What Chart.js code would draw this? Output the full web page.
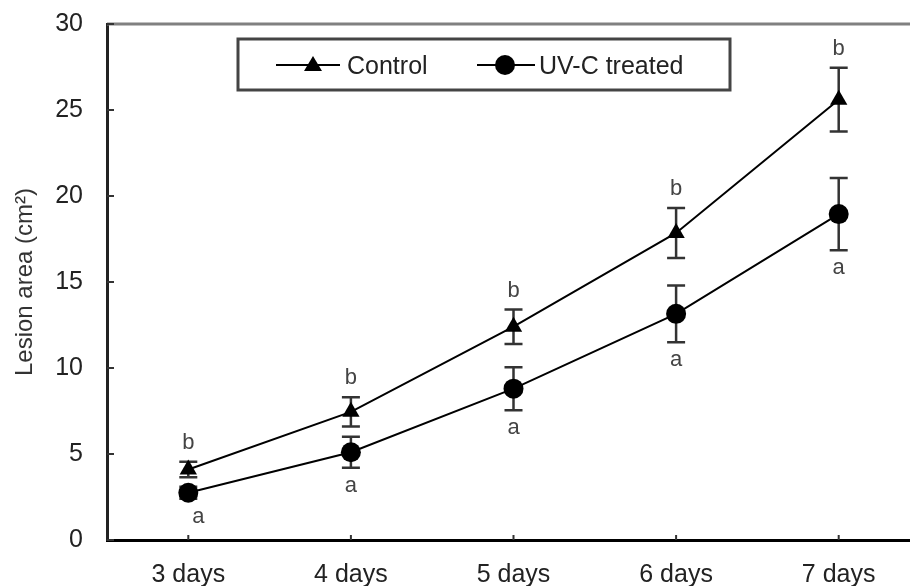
<!DOCTYPE html>
<html>
<head>
<meta charset="utf-8">
<script src="https://cdn.jsdelivr.net/npm/chart.js@4.4.0/dist/chart.umd.min.js"></script>
<style>
  body { margin: 0; background: #fff; overflow: hidden; }
  #wrap { width: 930px; height: 586px; }
</style>
</head>
<body>
<div id="wrap"><canvas id="myChart" width="930" height="586"></canvas></div>
<script>
// chart data
const days = ['3 days', '4 days', '5 days', '6 days', '7 days'];
const controlArea = [4.1, 7.45, 12.4, 17.85, 25.6];
const controlErr = [0.45, 0.85, 1.0, 1.45, 1.85];
const controlLetters = ['b', 'b', 'b', 'b', 'b'];
const uvcArea = [2.75, 5.1, 8.8, 13.15, 18.95];
const uvcErr = [0.35, 0.9, 1.25, 1.65, 2.1];
const uvcLetters = ['a', 'a', 'a', 'a', 'a'];
const yTicks = [0, 5, 10, 15, 20, 25, 30];

const FONT = 'Liberation Sans, Arial, sans-serif';

// error bars + significance letters, drawn through the scales
const errorBars = {
  id: 'errorBars',
  beforeDatasetsDraw(chart) {
    const ctx = chart.ctx;
    const x = chart.scales.x, y = chart.scales.y;
    const sets = [[controlArea, controlErr], [uvcArea, uvcErr]];
    ctx.save();
    ctx.strokeStyle = '#333';
    ctx.lineWidth = 2.5;
    sets.forEach(([vals, errs]) => {
      vals.forEach((v, i) => {
        const px = x.getPixelForValue(i);
        const top = y.getPixelForValue(v + errs[i]);
        const bot = y.getPixelForValue(v - errs[i]);
        ctx.beginPath();
        ctx.moveTo(px, top); ctx.lineTo(px, bot);
        ctx.moveTo(px - 9, top); ctx.lineTo(px + 9, top);
        ctx.moveTo(px - 9, bot); ctx.lineTo(px + 9, bot);
        ctx.stroke();
      });
    });
    ctx.restore();
  },
  afterDatasetsDraw(chart) {
    const ctx = chart.ctx;
    const x = chart.scales.x, y = chart.scales.y;
    ctx.save();
    ctx.fillStyle = '#444';
    ctx.font = '22px ' + FONT;
    ctx.textAlign = 'center';
    ctx.textBaseline = 'middle';
    controlArea.forEach((v, i) => {
      const px = x.getPixelForValue(i);
      ctx.fillText(controlLetters[i], px, y.getPixelForValue(v + controlErr[i]) - 19);
    });
    uvcArea.forEach((v, i) => {
      const px = x.getPixelForValue(i) + (i === 0 ? 10 : 0);
      ctx.fillText(uvcLetters[i], px, y.getPixelForValue(v - uvcErr[i]) + 18);
    });
    ctx.restore();
  }
};

// frame: grey top line, inward tick marks, legend box
const frame = {
  id: 'frame',
  afterDraw(chart) {
    const ctx = chart.ctx;
    const a = chart.chartArea;
    const x = chart.scales.x, y = chart.scales.y;
    ctx.save();
    ctx.strokeStyle = '#808080';
    ctx.lineWidth = 3;
    ctx.beginPath();
    ctx.moveTo(a.left, a.top); ctx.lineTo(a.right + 20, a.top);
    ctx.stroke();
    ctx.strokeStyle = '#333';
    ctx.lineWidth = 2;
    ctx.beginPath();
    yTicks.forEach(t => {
      const py = y.getPixelForValue(t);
      ctx.moveTo(a.left, py); ctx.lineTo(a.left + 7, py);
    });
    days.forEach((d, i) => {
      const px = x.getPixelForValue(i);
      ctx.moveTo(px, a.bottom); ctx.lineTo(px, a.bottom - 5);
    });
    ctx.stroke();

    // legend box
    ctx.strokeStyle = '#444';
    ctx.lineWidth = 3;
    ctx.strokeRect(238, 39, 492, 51);
    ctx.strokeStyle = '#000';
    ctx.lineWidth = 2;
    ctx.beginPath();
    ctx.moveTo(276, 65); ctx.lineTo(340, 65);
    ctx.moveTo(477, 65); ctx.lineTo(535, 65);
    ctx.stroke();
    ctx.fillStyle = '#000';
    ctx.beginPath();
    ctx.moveTo(313, 56); ctx.lineTo(322, 71); ctx.lineTo(304, 71); ctx.closePath();
    ctx.fill();
    ctx.beginPath();
    ctx.arc(505, 65, 10, 0, Math.PI * 2);
    ctx.fill();
    ctx.fillStyle = '#222';
    ctx.font = '25px ' + FONT;
    ctx.textBaseline = 'middle';
    ctx.fillText(chart.data.datasets[0].label, 347, 67);
    ctx.fillText(chart.data.datasets[1].label, 539, 67);
    ctx.restore();
  }
};

const ctx = document.getElementById('myChart').getContext('2d');
new Chart(ctx, {
  type: 'line',
  data: {
    labels: days,
    datasets: [{
      label: 'Control',
      data: controlArea,
      borderColor: '#000',
      backgroundColor: '#000',
      borderWidth: 2,
      pointStyle: 'triangle',
      pointRadius: 10,
      pointBorderWidth: 0,
      tension: 0
    }, {
      label: 'UV-C treated',
      data: uvcArea,
      borderColor: '#000',
      backgroundColor: '#000',
      borderWidth: 2,
      pointStyle: 'circle',
      pointRadius: 10,
      pointBorderWidth: 0,
      tension: 0
    }]
  },
  options: {
    responsive: false,
    animation: false,
    layout: { padding: { top: 24, right: 10, left: 0, bottom: 0 } },
    plugins: { legend: { display: false }, tooltip: { enabled: false } },
    scales: {
      x: {
        offset: true,
        grid: { display: false, drawTicks: false },
        border: { display: true, color: '#000', width: 3 },
        ticks: { color: '#222', font: { family: FONT, size: 25 }, padding: 20, maxRotation: 0 },
        afterFit(scale) { scale.height = 46; }
      },
      y: {
        min: 0,
        max: 30,
        grid: { display: false, drawTicks: false },
        border: { display: true, color: '#222', width: 3 },
        ticks: { stepSize: 5, color: '#222', font: { family: FONT, size: 25 }, padding: 24 },
        title: {
          display: true,
          text: 'Lesion area (cm²)',
          color: '#333',
          font: { family: FONT, size: 24 },
          padding: { top: 11, bottom: 0 }
        },
        afterFit(scale) {
          scale.width = 107;
          scale.paddingTop = 0;
          scale.paddingBottom = 0;
        }
      }
    }
  },
  plugins: [errorBars, frame]
});
</script>
</body>
</html>
